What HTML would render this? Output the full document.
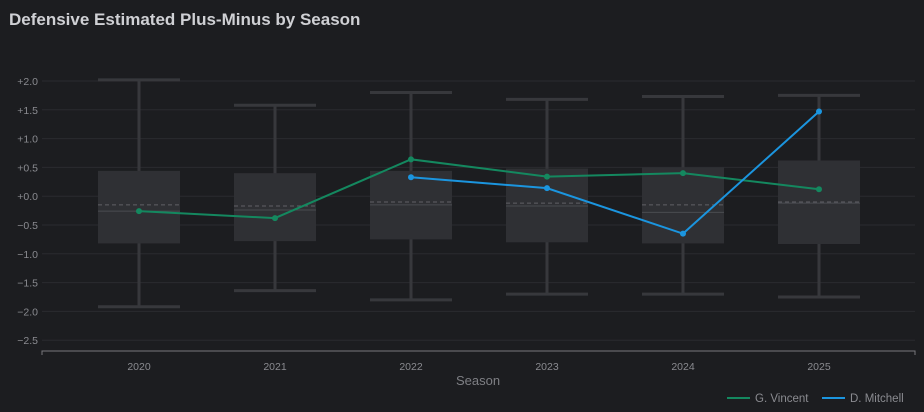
<!DOCTYPE html>
<html><head><meta charset="utf-8"><style>
html,body{margin:0;padding:0;background:#1c1d20;width:924px;height:412px;overflow:hidden;font-family:"Liberation Sans",sans-serif}
</style></head><body>
<svg width="924" height="412" xmlns="http://www.w3.org/2000/svg">
<text x="9" y="25" fill="#cfd0d4" font-size="17" font-weight="bold">Defensive Estimated Plus-Minus by Season</text>
<g id="grid"></g>
<g id="boxes"></g>
<g id="lines"></g>
<g id="axes"></g>
<text x="478" y="385" fill="#7e7f84" font-size="13" text-anchor="middle">Season</text>
<g>
<g><line x1="727" y1="398" x2="750" y2="398" stroke="#14885f" stroke-width="2"/><text x="755" y="402" fill="#8a8b90" font-size="11.5">G. Vincent</text></g>
<g><line x1="822" y1="398" x2="845" y2="398" stroke="#1b95df" stroke-width="2"/><text x="850" y="402" fill="#8a8b90" font-size="11.5">D. Mitchell</text></g>
</g>
</svg>
<script>
const seasons=["2020","2021","2022","2023","2024","2025"];
const whiskerHigh=[2.02,1.58,1.8,1.68,1.73,1.75];
const whiskerLow=[-1.92,-1.64,-1.8,-1.7,-1.7,-1.75];
const q3=[0.44,0.40,0.44,0.48,0.50,0.62];
const q1=[-0.82,-0.78,-0.75,-0.80,-0.82,-0.83];
const medians=[-0.26,-0.24,-0.15,-0.17,-0.28,-0.12];
const means=[-0.15,-0.17,-0.10,-0.12,-0.15,-0.10];
const vincent=[-0.26,-0.38,0.64,0.34,0.40,0.12];
const mitchell=[null,null,0.33,0.14,-0.65,1.47];
const yTicks=[2,1.5,1,0.5,0,-0.5,-1,-1.5,-2,-2.5];
const yLabels=["+2.0","+1.5","+1.0","+0.5","+0.0","\u22120.5","\u22121.0","\u22121.5","\u22122.0","\u22122.5"];

const NS="http://www.w3.org/2000/svg";
function y(v){return 196.2-v*57.6;}
function x(i){return 139+i*136;}
function mk(parent,tag,attrs){const e=document.createElementNS(NS,tag);for(const k in attrs)e.setAttribute(k,attrs[k]);document.getElementById(parent).appendChild(e);return e;}
yTicks.forEach((t,i)=>{
 const l=mk('grid','line',{x1:42,x2:915,y1:y(t),y2:y(t),stroke:'#2a2b2f','stroke-width':1});
 
 
 const tx=mk('axes','text',{x:38,y:y(t)+4,fill:'#8a8b90','font-size':10.5,'text-anchor':'end'});
 tx.textContent=yLabels[i];
 
 
});
const ax=mk('axes','path',{d:'M42 355V351H915V355',stroke:'#77787c',fill:'none','stroke-width':1});


seasons.forEach((s,i)=>{
 const cx=x(i),w=41;
 const g=mk('boxes','g',{});
 
 
 const add=(tag,a)=>{const e=document.createElementNS(NS,tag);for(const k in a)e.setAttribute(k,a[k]);g.appendChild(e);return e;};
 add('line',{x1:cx,x2:cx,y1:y(whiskerHigh[i]),y2:y(whiskerLow[i]),stroke:'#37383c','stroke-width':3});
 add('line',{x1:cx-w,x2:cx+w,y1:y(whiskerHigh[i]),y2:y(whiskerHigh[i]),stroke:'#37383c','stroke-width':3});
 add('line',{x1:cx-w,x2:cx+w,y1:y(whiskerLow[i]),y2:y(whiskerLow[i]),stroke:'#37383c','stroke-width':3});
 add('rect',{x:cx-w,y:y(q3[i]),width:2*w,height:y(q1[i])-y(q3[i]),fill:'#2f3034'});
 add('line',{x1:cx-w,x2:cx+w,y1:y(medians[i]),y2:y(medians[i]),stroke:'#4a4b50','stroke-width':1});
 add('line',{x1:cx-w,x2:cx+w,y1:y(means[i]),y2:y(means[i]),stroke:'#606166','stroke-width':1,'stroke-dasharray':'4 3'});
 const tx=mk('axes','text',{x:cx,y:370,fill:'#8a8b90','font-size':10.5,'text-anchor':'middle'});
 tx.textContent=s;
 
 
});
function series(vals,color,name){
 let d='';vals.forEach((v,i)=>{if(v===null)return;d+=(d?'L':'M')+x(i)+' '+y(v);});
 const p=mk('lines','path',{d:d,stroke:color,'stroke-width':2,fill:'none'});
 
 
 vals.forEach((v,i)=>{if(v===null)return;
  const c=mk('lines','circle',{cx:x(i),cy:y(v),r:3,fill:color});
  
  
 });
}
series(vincent,'#14885f','g-vincent');
series(mitchell,'#1b95df','d-mitchell');
</script>
</body></html>
